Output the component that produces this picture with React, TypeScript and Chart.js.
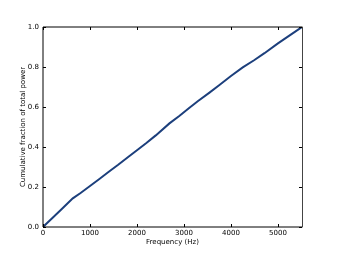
import React, { useEffect, useRef } from "react";
import { Chart, registerables } from "chart.js";

Chart.register(...registerables);

const freqs = [0, 200, 400, 634, 800, 1000, 1200, 1400, 1600, 1840, 2000, 2200, 2400, 2691, 2900, 3117, 3300, 3543, 3755, 4000, 4251, 4500, 4713, 5000, 5250, 5512];
const fractions = [0, 0.045, 0.09, 0.143, 0.17, 0.205, 0.24, 0.276, 0.311, 0.355, 0.384, 0.42, 0.458, 0.518, 0.555, 0.596, 0.63, 0.672, 0.71, 0.755, 0.798, 0.835, 0.869, 0.918, 0.958, 1.0];
const xTicks = [0, 1000, 2000, 3000, 4000, 5000];
const yTicks = [0, 0.2, 0.4, 0.6, 0.8, 1.0];
const xTitle = "Frequency (Hz)";
const yTitle = "Cumulative fraction of total power";

const FONT = "DejaVu Sans";

const framePlugin = {
  id: "frame",
  afterDatasetsDraw(chart: any) {
    const { ctx, chartArea, scales } = chart;
    const { left, right, top, bottom } = chartArea;
    ctx.save();
    ctx.lineWidth = 1;
    ctx.strokeStyle = "#000";
    const L = Math.round(left);
    const T = Math.round(top);
    const R = Math.round(right) + 0.5;
    const B = Math.round(bottom);
    ctx.beginPath();
    ctx.moveTo(L, T);
    ctx.lineTo(R, T);
    ctx.moveTo(L, T);
    ctx.lineTo(L, B);
    ctx.lineTo(R, B);
    ctx.stroke();
    ctx.strokeStyle = "#444";
    ctx.beginPath();
    ctx.moveTo(R, T);
    ctx.lineTo(R, B);
    ctx.stroke();
    ctx.strokeStyle = "#000";
    const tl = 3;
    ctx.beginPath();
    for (const v of xTicks) {
      const px = Math.round(scales.x.getPixelForValue(v)) + 0.5;
      ctx.moveTo(px, bottom);
      ctx.lineTo(px, bottom - tl);
      ctx.moveTo(px, top);
      ctx.lineTo(px, top + tl);
    }
    for (const v of yTicks) {
      const py = Math.round(scales.y.getPixelForValue(v)) + 0.5;
      ctx.moveTo(left, py);
      ctx.lineTo(left + tl, py);
      ctx.moveTo(right, py);
      ctx.lineTo(right - tl, py);
    }
    ctx.stroke();
    ctx.fillStyle = "#000";
    ctx.font = `7px "${FONT}"`;
    ctx.textAlign = "center";
    ctx.textBaseline = "middle";
    ctx.fillText(xTitle, (left + right) / 2, 242);
    ctx.translate(23.5, (top + bottom) / 2);
    ctx.rotate(-Math.PI / 2);
    ctx.fillText(yTitle, 0, 0);
    ctx.restore();
  },
};

export default function App() {
  const ref = useRef<HTMLCanvasElement>(null);
  useEffect(() => {
    if (!ref.current) return;
    const chart = new Chart(ref.current, {
      type: "line",
      data: {
        datasets: [
          {
            data: freqs.map((f, i) => ({ x: f, y: fractions[i] })),
            borderColor: "#1c3f7c",
            borderWidth: 2,
            pointRadius: 0,
            tension: 0,
            fill: false,
          },
        ],
      },
      options: {
        animation: false,
        responsive: false,
        events: [],
        layout: { padding: { left: 0, right: 36, top: 27, bottom: 0 } },
        plugins: { legend: { display: false }, tooltip: { enabled: false } },
        scales: {
          x: {
            type: "linear",
            min: 0,
            max: 5512,
            afterBuildTicks: (s: any) => {
              s.ticks = xTicks.map((v) => ({ value: v }));
            },
            afterFit: (s: any) => {
              s.height = 27;
            },
            grid: { display: false, drawTicks: false },
            border: { display: false },
            ticks: {
              color: "#000",
              font: { family: FONT, size: 7 },
              padding: 2,
              maxRotation: 0,
              callback: (v: any) => String(v),
            },
          },
          y: {
            type: "linear",
            min: 0,
            max: 1,
            afterBuildTicks: (s: any) => {
              s.ticks = yTicks.map((v) => ({ value: v }));
            },
            afterFit: (s: any) => {
              s.width = 43;
            },
            grid: { display: false, drawTicks: false },
            border: { display: false },
            ticks: {
              color: "#000",
              font: { family: FONT, size: 7 },
              padding: 4,
              callback: (v: any) => Number(v).toFixed(1),
            },
          },
        },
      },
      plugins: [framePlugin],
    });
    return () => chart.destroy();
  }, []);
  return (
    <div style={{ position: "fixed", left: 0, top: 0, width: 338, height: 254, background: "#fff" }}>
      <canvas ref={ref} width={338} height={254} style={{ display: "block" }} />
    </div>
  );
}
